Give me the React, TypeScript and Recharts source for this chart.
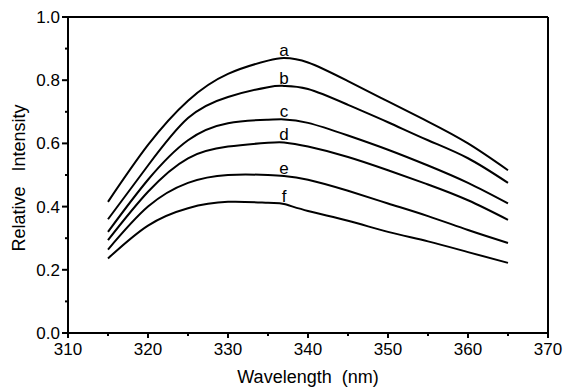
import { LabelList, Line, LineChart, ReferenceLine, XAxis, YAxis } from "recharts";

const wavelength = [315, 320, 325, 330, 335, 337, 340, 345, 350, 355, 360, 365];
const curveA = [0.415, 0.595, 0.735, 0.82, 0.862, 0.87, 0.856, 0.797, 0.733, 0.669, 0.6, 0.515];
const curveB = [0.36, 0.53, 0.68, 0.747, 0.778, 0.782, 0.772, 0.722, 0.667, 0.61, 0.553, 0.475];
const curveC = [0.32, 0.485, 0.61, 0.664, 0.675, 0.676, 0.665, 0.625, 0.58, 0.53, 0.475, 0.41];
const curveD = [0.294, 0.447, 0.553, 0.59, 0.602, 0.603, 0.59, 0.557, 0.515, 0.47, 0.42, 0.358];
const curveE = [0.264, 0.4, 0.475, 0.5, 0.5, 0.497, 0.485, 0.45, 0.41, 0.37, 0.326, 0.285];
const curveF = [0.236, 0.34, 0.395, 0.415, 0.412, 0.408, 0.386, 0.355, 0.32, 0.29, 0.256, 0.222];
const curveNames = ["a", "b", "c", "d", "e", "f"];
const labelAt = 337;

const xTicks = [310, 315, 320, 325, 330, 335, 340, 345, 350, 355, 360, 365, 370];
const yTicks = [0, 0.1, 0.2, 0.3, 0.4, 0.5, 0.6, 0.7, 0.8, 0.9, 1];

const curves = [curveA, curveB, curveC, curveD, curveE, curveF];
const data = wavelength.map((w, i) => {
  const row: Record<string, number> = { w };
  curveNames.forEach((name, k) => (row[name] = curves[k][i]));
  return row;
});

const font = "'Liberation Sans', Arial, sans-serif";

function XTick({ x, y, payload }: any) {
  const major = payload.value % 10 === 0;
  return (
    <g>
      <line x1={x} x2={x} y1={y} y2={y + (major ? 5 : 3)} stroke="#000" strokeWidth={2} />
      {major && (
        <text x={x} y={y + 22} textAnchor="middle" fontSize={17} fontFamily={font} fill="#000">
          {payload.value}
        </text>
      )}
    </g>
  );
}

function YTick({ x, y, payload }: any) {
  const major = Math.round(payload.value * 10) % 2 === 0;
  return (
    <g>
      <line x1={x} x2={x - (major ? 6 : 3)} y1={y} y2={y} stroke="#000" strokeWidth={2} />
      {major && (
        <text x={x - 8} y={y + 6} textAnchor="end" fontSize={17} fontFamily={font} fill="#000">
          {payload.value.toFixed(1)}
        </text>
      )}
    </g>
  );
}

function curveLabel(name: string) {
  return (props: any) => {
    if (wavelength[props.index] !== labelAt) return null;
    return (
      <text x={props.x} y={props.y - 2} textAnchor="middle" fontSize={17} fontFamily={font} fill="#000">
        {name}
      </text>
    );
  };
}

export default function App() {
  return (
    <div style={{ position: "fixed", left: 0, top: 0, background: "#fff", fontFamily: font }}>
      <LineChart width={563} height={388} data={data} margin={{ top: 17, right: 15, bottom: 0, left: 0 }}>
        <XAxis
          dataKey="w"
          type="number"
          domain={[310, 370]}
          ticks={xTicks}
          interval={0}
          height={55}
          tickSize={0}
          tickMargin={0}
          tickLine={false}
          tick={<XTick />}
          axisLine={{ stroke: "#000", strokeWidth: 2 }}
          label={{
            content: ({ viewBox }: any) => (
              <text
                x={viewBox.x + viewBox.width / 2}
                y={viewBox.y + 50}
                textAnchor="middle"
                fontSize={18}
                fontFamily={font}
                fill="#000"
              >
                {"Wavelength\u00A0\u00A0(nm)"}
              </text>
            ),
          }}
        />
        <YAxis
          type="number"
          domain={[0, 1]}
          ticks={yTicks}
          interval={0}
          width={68}
          tickSize={0}
          tickMargin={0}
          tickLine={false}
          tick={<YTick />}
          axisLine={{ stroke: "#000", strokeWidth: 2 }}
          label={{
            content: ({ viewBox }: any) => {
              const cx = viewBox.x + 25;
              const cy = viewBox.y + viewBox.height / 2 + 3;
              return (
                <text
                  x={cx}
                  y={cy}
                  transform={`rotate(-90 ${cx} ${cy})`}
                  textAnchor="middle"
                  fontSize={18}
                  fontFamily={font}
                  fill="#000"
                >
                  {"Relative\u00A0\u00A0\u00A0Intensity"}
                </text>
              );
            },
          }}
        />
        <ReferenceLine y={1} stroke="#000" strokeWidth={2} ifOverflow="visible" />
        <ReferenceLine x={370} stroke="#000" strokeWidth={2} ifOverflow="visible" />
        {curveNames.map((name) => (
          <Line
            key={name}
            dataKey={name}
            type="natural"
            stroke="#000"
            strokeWidth={2}
            dot={false}
            isAnimationActive={false}
          >
            <LabelList dataKey={name} content={curveLabel(name)} />
          </Line>
        ))}
      </LineChart>
    </div>
  );
}
